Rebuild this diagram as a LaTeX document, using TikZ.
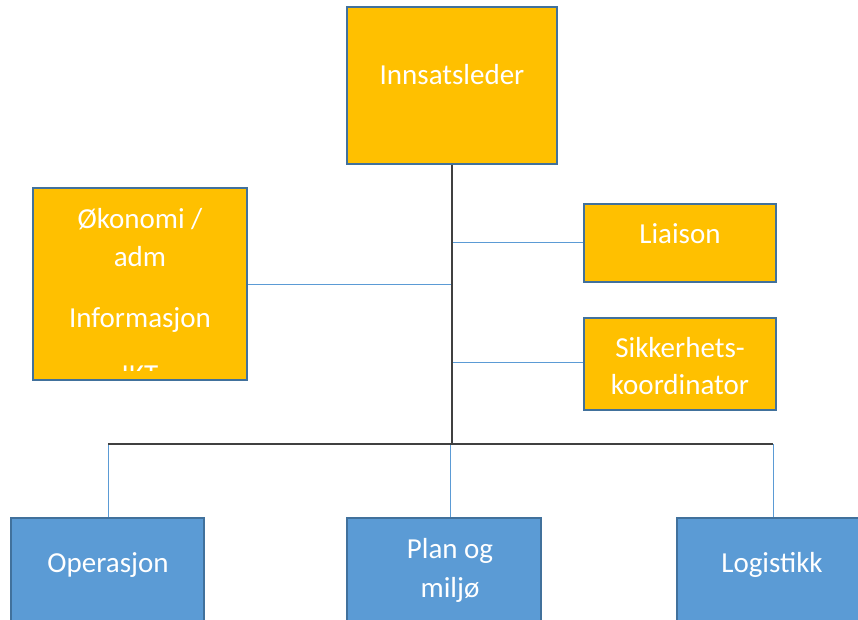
\documentclass[tikz,border=0pt]{standalone}
\usepackage{fontspec}
\setmainfont{Carlito}
\definecolor{boxgold}{HTML}{FFC000}
\definecolor{boxblue}{HTML}{5B9BD5}
\definecolor{edgeblue}{HTML}{41719C}
\definecolor{linkblue}{HTML}{5B9BD5}
\definecolor{trunk}{HTML}{404040}
\begin{document}
\begin{tikzpicture}[x=1pt,y=-1pt,
  unit/.style={rectangle, draw=edgeblue, line width=2pt, inner sep=0pt},
  staff/.style={unit, fill=boxgold},
  section/.style={unit, fill=boxblue},
  caption/.style={text=white, font=\fontsize{29}{38}\selectfont, anchor=base, inner sep=0pt},
  link/.style={draw=linkblue, line width=1pt},
  spine/.style={draw=trunk, line width=1.6pt}]
\useasboundingbox (0,0) rectangle (858,620);
\clip (0,0) rectangle (858,620);

% staff boxes
\node[staff, minimum width=210pt, minimum height=157pt] (lead) at (452,85.5) {};
\node[staff, minimum width=214pt, minimum height=192pt] (econ) at (140,284) {};
\node[staff, minimum width=192pt, minimum height=78pt] (liaison) at (680,243) {};
\node[staff, minimum width=192pt, minimum height=92pt] (safety) at (680,364) {};

% line sections
\node[section, minimum width=193pt, minimum height=130pt] (ops) at (107.5,583) {};
\node[section, minimum width=194pt, minimum height=130pt] (plan) at (444,583) {};
\node[section, minimum width=193pt, minimum height=130pt] (log) at (773.5,583) {};

% labels
\node[caption] (leadtxt) at (452,85) {Innsatsleder};
\begin{scope}
  \clip (35,190) rectangle (245,370);
  \node[caption] (econtxt1) at (140,228) {Økonomi /};
  \node[caption] (econtxt2) at (140,266) {adm};
  \node[caption] (econtxt3) at (140,327) {Informasjon};
  \node[caption] (econtxt4) at (140,384) {IKT};
\end{scope}
\node[caption] (liaisontxt) at (680,243) {Liaison};
\node[caption] (safetytxt1) at (680,357) {Sikkerhets-};
\node[caption] (safetytxt2) at (680,394) {koordinator};
\node[caption] (opstxt) at (108,572) {Operasjon};
\node[caption] (plantxt1) at (450,558) {Plan og};
\node[caption] (plantxt2) at (450,597) {miljø};
\node[caption] (logtxt) at (772,572) {Logistikk};

% connector points
\coordinate (hub) at (452,444);
\coordinate (barL) at (108,444);
\coordinate (barR) at (773,444);
\coordinate (tapLiaison) at (452,242);
\coordinate (tapEcon) at (452,284);
\coordinate (tapSafety) at (452,362);
\coordinate (dropOps) at (108,444);
\coordinate (dropPlan) at (450,444);
\coordinate (dropLog) at (773,444);

% thin blue links
\draw[link] (tapLiaison) -- (tapLiaison -| liaison.west);
\draw[link] (econ.east |- tapEcon) -- (tapEcon);
\draw[link] (tapSafety) -- (tapSafety -| safety.west);
\draw[link] (dropOps) -- (dropOps |- ops.north);
\draw[link] (dropPlan) -- (dropPlan |- plan.north);
\draw[link] (dropLog) -- (dropLog |- log.north);

% dark trunk
\draw[spine] (lead.south) -- (hub);
\draw[spine] (barL) -- (barR);
\end{tikzpicture}
\end{document}
